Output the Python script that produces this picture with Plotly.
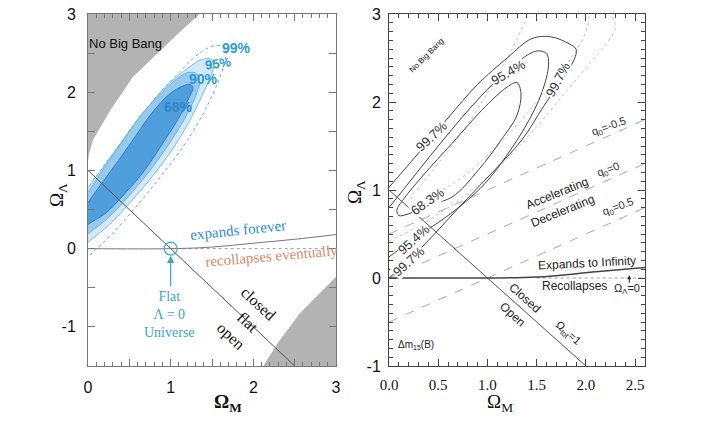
import plotly.graph_objects as go

# ---------------- Left panel data (Perlmutter-style) ----------------
nbb_x = [0, 0.01, 0.06, 0.27, 0.54, 0.87, 1.12, 1.35, 0]
nbb_y = [1.12, 1.2, 1.39, 1.77, 2.19, 2.53, 2.78, 3.0, 3.0]
lr_x = [2.12, 2.3, 2.56, 2.8, 3.0, 3.0]
lr_y = [-1.5, -1.2, -0.83, -0.57, -0.36, -1.5]

c68_x = [-0.25, -0.12, 0, 0.21, 0.45, 0.69, 0.93, 1.13, 1.23, 1.27, 1.24, 1.15, 0.99, 0.77, 0.57, 0.37, 0.17, 0, -0.15, -0.25]
c68_y = [0.12, 0.2, 0.31, 0.45, 0.71, 1.01, 1.39, 1.73, 1.95, 2.05, 2.1, 2.08, 1.98, 1.73, 1.43, 1.13, 0.84, 0.59, 0.36, 0.12]
c90_x = [-0.3, -0.15, 0, 0.25, 0.5, 0.75, 1.0, 1.2, 1.32, 1.35, 1.31, 1.2, 1.05, 0.85, 0.65, 0.45, 0.25, 0.05, -0.1, -0.25, -0.3]
c90_y = [0.0, 0.08, 0.19, 0.4, 0.68, 1.0, 1.37, 1.72, 2.0, 2.15, 2.24, 2.25, 2.15, 1.95, 1.72, 1.42, 1.12, 0.8, 0.58, 0.3, 0.0]
c95_x = [-0.25, -0.1, 0, 0.25, 0.55, 0.85, 1.1, 1.3, 1.45, 1.52, 1.49, 1.38, 1.2, 0.95, 0.72, 0.5, 0.28, 0.05, -0.1, -0.25]
c95_y = [-0.1, -0.02, 0.08, 0.3, 0.64, 1.02, 1.4, 1.78, 2.12, 2.33, 2.42, 2.42, 2.3, 2.08, 1.8, 1.5, 1.18, 0.85, 0.62, 0.3]
c99_x = [-0.15, 0, 0.3, 0.6, 0.9, 1.2, 1.42, 1.58, 1.66, 1.66, 1.55, 1.35, 1.1, 0.85, 0.6, 0.38, 0.15, -0.05, -0.2]
c99_y = [-0.22, -0.1, 0.2, 0.56, 0.95, 1.38, 1.78, 2.15, 2.42, 2.56, 2.6, 2.5, 2.25, 1.97, 1.65, 1.33, 1.0, 0.7, 0.4]

flat_left_x = [0, 2.5]
flat_left_y = [1, -1.5]
exp_left_x = [0, 1, 1.5, 2, 2.5, 3]
exp_left_y = [0, 0, 0.02, 0.07, 0.12, 0.18]
zero_left_x = [1, 3]
zero_left_y = [0, 0]

# ---------------- Right panel data (Riess-style) ----------------
r68_x = [1.30, 1.34, 1.30, 1.14, 0.91, 0.64, 0.40, 0.20, 0.10, 0.08, 0.15, 0.35, 0.64, 0.98, 1.20, 1.30]
r68_y = [2.22, 2.10, 1.85, 1.57, 1.23, 0.92, 0.83, 0.73, 0.71, 0.77, 0.90, 1.17, 1.53, 1.95, 2.17, 2.22]
r95_x = [-0.1, 0, 0.25, 0.5, 0.75, 0.98, 1.2, 1.4, 1.55, 1.62, 1.6, 1.5, 1.3, 1.05, 0.8, 0.5, 0.2, 0, -0.1]
r95_y = [0.17, 0.24, 0.45, 0.63, 0.84, 1.08, 1.4, 1.75, 2.1, 2.42, 2.55, 2.58, 2.45, 2.2, 1.9, 1.5, 1.08, 0.8, 0.66]
r99_x = [-0.1, 0, 0.2, 0.47, 0.75, 1.05, 1.35, 1.57, 1.75, 1.88, 1.9, 1.83, 1.65, 1.45, 1.2, 0.9, 0.6, 0.3, 0, -0.1]
r99_y = [-0.1, 0.0, 0.2, 0.51, 0.85, 1.2, 1.57, 1.95, 2.25, 2.48, 2.6, 2.66, 2.74, 2.72, 2.5, 2.2, 1.82, 1.42, 1.03, 0.9]
d1_x = [1.55, 1.4, 1.25, 1.05, 0.8, 0.5, 0.3, 0.22, 0.28, 0.45, 0.75, 1.05, 1.35, 1.6, 1.85, 2.0, 2.03, 1.95]
d1_y = [3.2, 2.95, 2.6, 2.2, 1.75, 1.3, 1.02, 0.92, 0.88, 0.95, 1.15, 1.45, 1.8, 2.15, 2.5, 2.8, 3.0, 3.2]
d2_x = [0.0, 0.35, 0.75, 1.15, 1.5, 1.8, 2.05, 2.22, 2.3, 2.25, 2.12]
d2_y = [0.42, 0.62, 0.92, 1.3, 1.72, 2.12, 2.45, 2.68, 2.85, 3.0, 3.2]

flat_right_x = [0, 2]
flat_right_y = [1, -1]
exp_right_x = [0, 1, 1.5, 2.1, 2.6]
exp_right_y = [0, 0, 0.01, 0.07, 0.12]
zero_right_x = [1.5, 2.6]
zero_right_y = [0, 0]
q_x = [0, 2.6]
q_neg_half_y = [0.5, 1.8]
q_zero_y = [0.0, 1.3]
q_half_y = [-0.5, 0.8]

left_xticks = [0, 0.5, 1, 1.5, 2, 2.5, 3]
left_xtext = ["0", "", "1", "", "2", "", "3"]
left_yticks = [-1.5, -1, -0.5, 0, 0.5, 1, 1.5, 2, 2.5, 3]
left_ytext = ["", "-1", "", "0", "", "1", "", "2", "", "3"]
right_xticks = [0, 0.5, 1, 1.5, 2, 2.5]
right_xtext = ["0.0", "0.5", "1.0", "1.5", "2.0", "2.5"]
right_yticks = [-1, 0, 1, 2, 3]
right_ytext = ["-1", "0", "1", "2", "3"]

SANS = "Liberation Sans, Arial, sans-serif"
SERIF = "Liberation Serif, Times New Roman, serif"

W, H = 724, 434
def px(x):
    return x / W
def py(y):
    return 1 - y / H

fig = go.Figure()

def add(x, y, xa, ya, **kw):
    fig.add_trace(go.Scatter(x=x, y=y, xaxis=xa, yaxis=ya, hoverinfo="skip",
                             showlegend=False, **kw))

# Left panel
add(nbb_x, nbb_y, "x", "y", mode="lines", fill="toself", fillcolor="#b3b3b3",
    line=dict(width=0, color="#b3b3b3"))
add(lr_x, lr_y, "x", "y", mode="lines", fill="toself", fillcolor="#b3b3b3",
    line=dict(width=0, color="#b3b3b3"))
add(c99_x, c99_y, "x", "y", mode="lines", line=dict(color="#5fb0e0", width=1, dash="dot", shape="spline"))
add(c95_x, c95_y, "x", "y", mode="lines", fill="toself", fillcolor="#d3e9f7",
    line=dict(color="#62afe0", width=0.8, shape="spline"))
add(c90_x, c90_y, "x", "y", mode="lines", fill="toself", fillcolor="#97caec",
    line=dict(color="#5aa8dc", width=0.8, shape="spline"))
add(c68_x, c68_y, "x", "y", mode="lines", fill="toself", fillcolor="#4f9fdc",
    line=dict(color="#2f7fc2", width=1, shape="spline"))
add(flat_left_x, flat_left_y, "x", "y", mode="lines", line=dict(color="#555", width=1))
add(zero_left_x, zero_left_y, "x", "y", mode="lines", line=dict(color="#999", width=1, dash="dot"))
add(exp_left_x, exp_left_y, "x", "y", mode="lines", line=dict(color="#777", width=1, shape="spline"))
add([1], [0], "x", "y", mode="markers",
    marker=dict(symbol="circle-open", size=13, color="#3aa6c6", line=dict(width=1.2, color="#3aa6c6")))

# Right panel
for qy in (q_neg_half_y, q_zero_y, q_half_y):
    add(q_x, qy, "x2", "y2", mode="lines", line=dict(color="#aaa", width=1, dash="dash"))
add(d2_x, d2_y, "x2", "y2", mode="lines", line=dict(color="#c4c4c4", width=1, dash="dot", shape="spline"))
add(d1_x, d1_y, "x2", "y2", mode="lines", line=dict(color="#c4c4c4", width=1, dash="dot", shape="spline"))
add(r99_x, r99_y, "x2", "y2", mode="lines", line=dict(color="#444", width=1, shape="spline"))
add(r95_x, r95_y, "x2", "y2", mode="lines", line=dict(color="#444", width=1, shape="spline"))
add(r68_x, r68_y, "x2", "y2", mode="lines", line=dict(color="#444", width=1, shape="spline"))
add(flat_right_x, flat_right_y, "x2", "y2", mode="lines", line=dict(color="#555", width=1))
add(zero_right_x, zero_right_y, "x2", "y2", mode="lines", line=dict(color="#999", width=1, dash="dot"))
add(exp_right_x, exp_right_y, "x2", "y2", mode="lines", line=dict(color="#444", width=1.5, shape="spline"))

ann = []
def txt(x, y, t, xr="x", yr="y", size=12, color="#111", family=SANS, angle=0, bg=None, **kw):
    d = dict(x=x, y=y, xref=xr, yref=yr, text=t, showarrow=False, textangle=angle,
             font=dict(size=size, color=color, family=family), borderpad=0)
    if bg:
        d["bgcolor"] = bg
    d.update(kw)
    ann.append(d)

# Left texts
txt(0.45, 2.62, "No Big Bang", size=13)
txt(1.80, 2.57, "<b>99%</b>", size=14, color="#2b9bd0")
txt(1.57, 2.37, "<b>95%</b>", size=13, color="#2b9bd0", angle=-8)
txt(1.40, 2.17, "<b>90%</b>", size=14, color="#2b9bd0")
txt(1.10, 1.81, "<b>68%</b>", size=14, color="#2f86c8")
txt(1.82, 0.24, "expands forever", size=15, color="#2a8fd0", family=SERIF, angle=-6)
txt(2.22, -0.09, "recollapses eventually", size=15, color="#d48c6a", family=SERIF, angle=-5)
txt(2.06, -0.70, "closed", size=16, family=SERIF, angle=43)
txt(1.94, -0.94, "flat", size=16, family=SERIF, angle=43)
txt(1.72, -1.12, "open", size=16, family=SERIF, angle=43)
txt(0.99, -0.84, "Flat<br>Λ = 0<br>Universe", size=14, color="#3aa6c6", family=SERIF)
ann.append(dict(x=1, y=-0.09, xref="x", yref="y", ax=1, ay=-0.5, axref="x", ayref="y",
                showarrow=True, arrowhead=2, arrowsize=1.2, arrowwidth=1.2,
                arrowcolor="#3aa6c6", text=""))

# Right texts
txt(0.38, 2.53, "No Big Bang", "x2", "y2", size=8, angle=-45)
txt(0.43, 1.61, "99.7%", "x2", "y2", size=13, color="#333", angle=-43, bg="white")
txt(1.21, 2.33, "95.4%", "x2", "y2", size=13, color="#333", angle=-30, bg="white")
txt(1.72, 2.25, "99.7%", "x2", "y2", size=13, color="#333", angle=-62, bg="white")
txt(0.39, 0.87, "68.3%", "x2", "y2", size=13, color="#333", angle=-35, bg="white")
txt(0.25, 0.44, "95.4%", "x2", "y2", size=13, color="#333", angle=-42, bg="white")
txt(0.20, 0.19, "99.7%", "x2", "y2", size=13, color="#333", angle=-42, bg="white")
txt(2.23, 1.72, "q<sub>0</sub>=-0.5", "x2", "y2", size=11, color="#333", angle=-20)
txt(2.23, 1.23, "q<sub>0</sub>=0", "x2", "y2", size=11, color="#333", angle=-20)
txt(2.33, 0.81, "q<sub>0</sub>=0.5", "x2", "y2", size=11, color="#333", angle=-20)
txt(1.71, 0.97, "Accelerating", "x2", "y2", size=12, color="#222", angle=-22)
txt(1.76, 0.76, "Decelerating", "x2", "y2", size=12, color="#222", angle=-22)
txt(2.01, 0.17, "Expands to Infinity", "x2", "y2", size=12, color="#222", angle=-3)
txt(1.88, -0.09, "Recollapses", "x2", "y2", size=12, color="#222")
txt(2.42, -0.12, "Ω<sub>Λ</sub>=0", "x2", "y2", size=11, color="#222")
ann.append(dict(x=2.44, y=0.03, xref="x2", yref="y2", ax=2.44, ay=-0.07, axref="x2", ayref="y2",
                showarrow=True, arrowhead=2, arrowsize=0.8, arrowwidth=1,
                arrowcolor="#222", text=""))
txt(1.38, -0.23, "Closed", "x2", "y2", size=12, color="#222", angle=42)
txt(1.25, -0.41, "Open", "x2", "y2", size=12, color="#222", angle=42)
txt(1.81, -0.63, "Ω<sub>tot</sub>=1", "x2", "y2", size=11, color="#222", angle=42)
txt(0.27, -0.76, "Δm<sub>15</sub>(B)", "x2", "y2", size=10, color="#222")

# Axis titles
txt(px(45), py(195), "Ω<sub>Λ</sub>", "paper", "paper", size=19, family=SERIF, angle=-90)
txt(px(213), py(416), "<b>Ω<sub>M</sub></b>", "paper", "paper", size=19, family=SERIF)
txt(px(356), py(192), "Ω<sub>Λ</sub>", "paper", "paper", size=19, family=SERIF, angle=-90)
txt(px(514), py(416), "Ω<sub>M</sub>", "paper", "paper", size=19, family=SERIF)

axcommon = dict(showgrid=False, zeroline=False, showline=True, mirror="ticks",
                ticks="inside", ticklen=7, tickmode="array", automargin=False,
                ticklabeloverflow="allow")

fig.update_layout(
    template="none",
    width=W, height=H, margin=dict(l=0, r=0, t=0, b=0, pad=0, autoexpand=False),
    plot_bgcolor="white", paper_bgcolor="white",
    font=dict(family=SANS, color="#111"),
    annotations=ann,
    xaxis=dict(domain=[px(88), px(336)], range=[0, 3], anchor="y",
               tickvals=left_xticks, ticktext=left_xtext, ticklabelstandoff=7,
               linecolor="#777", tickcolor="#777", tickfont=dict(size=16, family=SANS),
               minor=dict(dtick=0.1, tick0=0, ticklen=4, ticks="inside", tickcolor="#777"),
               **axcommon),
    yaxis=dict(domain=[py(366), py(14)], range=[-1.5, 3], anchor="x",
               tickvals=left_yticks, ticktext=left_ytext, ticklabelstandoff=8,
               linecolor="#777", tickcolor="#777", tickfont=dict(size=16, family=SANS),
               **axcommon),
    xaxis2=dict(domain=[px(389), px(645)], range=[0, 2.6], anchor="y2",
                tickvals=right_xticks, ticktext=right_xtext, ticklabelstandoff=5,
                linecolor="#444", tickcolor="#444", tickfont=dict(size=15, family=SERIF),
                minor=dict(dtick=0.1, tick0=0, ticklen=4, ticks="inside", tickcolor="#444"),
                **axcommon),
    yaxis2=dict(domain=[py(366), py(14)], range=[-1, 3], anchor="x2",
                tickvals=right_yticks, ticktext=right_ytext, ticklabelstandoff=4,
                linecolor="#444", tickcolor="#444", tickfont=dict(size=16, family=SANS),
                minor=dict(dtick=0.1, tick0=0, ticklen=4, ticks="inside", tickcolor="#444"),
                **axcommon),
)

fig.write_html("out.html", config={"displayModeBar": False},
               post_script="document.body.style.margin='0';document.body.style.overflow='hidden';")
